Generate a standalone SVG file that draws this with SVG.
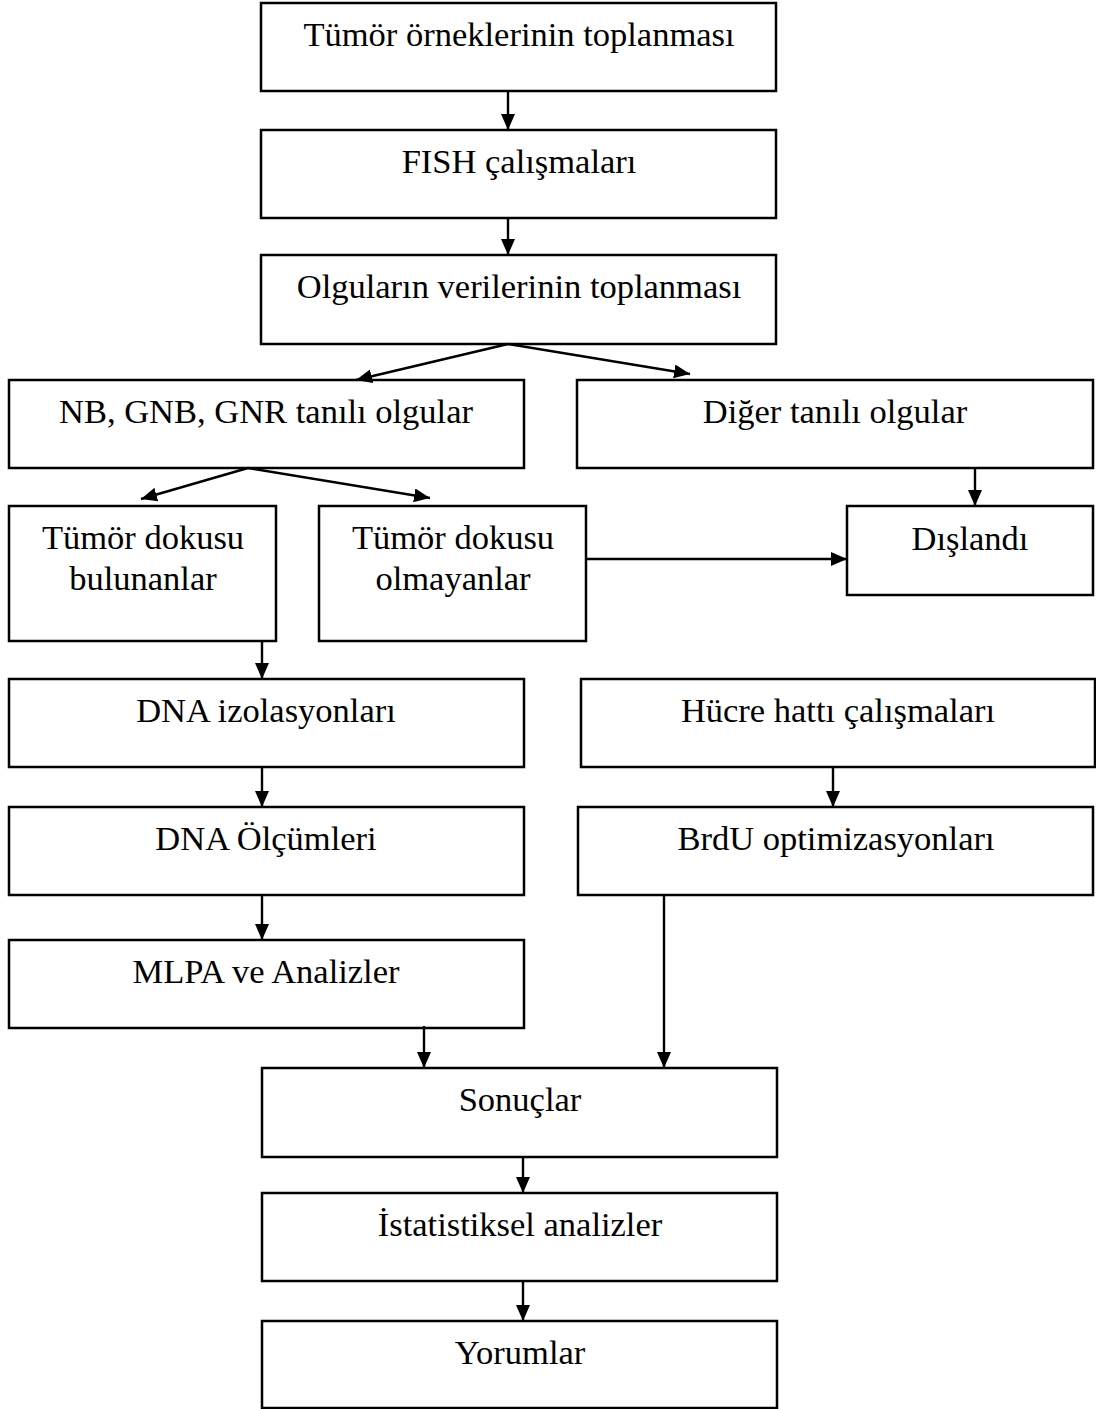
<svg xmlns="http://www.w3.org/2000/svg" width="1096" height="1409" viewBox="0 0 1096 1409">
<defs>
<marker id="ah" viewBox="0 0 16 14" refX="16" refY="7" markerWidth="16" markerHeight="14" markerUnits="userSpaceOnUse" orient="auto">
<path d="M0,0 L16,7 L0,14 Z" fill="#000"/>
</marker>
<style>
.box{fill:#fff;stroke:#000;stroke-width:2.5}
.t{font-family:"Liberation Serif","Times New Roman",serif;font-size:34.5px;fill:#000;text-anchor:middle}
.c{fill:none;stroke:#000;stroke-width:2.4;marker-end:url(#ah)}
</style>
</defs>
<rect width="1096" height="1409" fill="#fff"/>
<g id="n1"><rect class="box" x="261" y="3" width="515" height="88"/><text class="t" x="519" y="46">Tümör örneklerinin toplanması</text></g>
<g id="n2"><rect class="box" x="261" y="130" width="515" height="88"/><text class="t" x="519" y="173">FISH çalışmaları</text></g>
<g id="n3"><rect class="box" x="261" y="255" width="515" height="89"/><text class="t" x="519" y="298">Olguların verilerinin toplanması</text></g>
<g id="n4"><rect class="box" x="9" y="380" width="515" height="88"/><text class="t" x="266" y="423">NB, GNB, GNR tanılı olgular</text></g>
<g id="n5"><rect class="box" x="577" y="380" width="516" height="88"/><text class="t" x="835" y="423">Diğer tanılı olgular</text></g>
<g id="n6"><rect class="box" x="9" y="506" width="267" height="135"/><text class="t" x="143" y="549">Tümör dokusu</text><text class="t" x="143" y="590">bulunanlar</text></g>
<g id="n7"><rect class="box" x="319" y="506" width="267" height="135"/><text class="t" x="453" y="549">Tümör dokusu</text><text class="t" x="453" y="590">olmayanlar</text></g>
<g id="n8"><rect class="box" x="847" y="506" width="246" height="89"/><text class="t" x="970" y="550">Dışlandı</text></g>
<g id="n9"><rect class="box" x="9" y="679" width="515" height="88"/><text class="t" x="266" y="722">DNA izolasyonları</text></g>
<g id="n10"><rect class="box" x="581" y="679" width="514" height="88"/><text class="t" x="838" y="722">Hücre hattı çalışmaları</text></g>
<g id="n11"><rect class="box" x="9" y="807" width="515" height="88"/><text class="t" x="266" y="850">DNA Ölçümleri</text></g>
<g id="n12"><rect class="box" x="578" y="807" width="515" height="88"/><text class="t" x="836" y="850">BrdU optimizasyonları</text></g>
<g id="n13"><rect class="box" x="9" y="940" width="515" height="88"/><text class="t" x="266" y="983">MLPA ve Analizler</text></g>
<g id="n14"><rect class="box" x="262" y="1068" width="515" height="89"/><text class="t" x="520" y="1111">Sonuçlar</text></g>
<g id="n15"><rect class="box" x="262" y="1193" width="515" height="88"/><text class="t" x="520" y="1236">İstatistiksel analizler</text></g>
<g id="n16"><rect class="box" x="262" y="1321" width="515" height="87"/><text class="t" x="520" y="1364">Yorumlar</text></g>
<g id="connectors">
<line class="c" x1="508" y1="92" x2="508" y2="130"/>
<line class="c" x1="508" y1="219" x2="508" y2="255"/>
<line class="c" x1="508" y1="344" x2="356" y2="380"/>
<line class="c" x1="508" y1="344" x2="690" y2="374"/>
<line class="c" x1="248" y1="468" x2="141" y2="499"/>
<line class="c" x1="248" y1="468" x2="430" y2="498"/>
<line class="c" x1="975" y1="469" x2="975" y2="506"/>
<line class="c" x1="587" y1="559" x2="847" y2="559"/>
<line class="c" x1="262" y1="642" x2="262" y2="679"/>
<line class="c" x1="262" y1="768" x2="262" y2="807"/>
<line class="c" x1="262" y1="896" x2="262" y2="940"/>
<line class="c" x1="833" y1="768" x2="833" y2="807"/>
<line class="c" x1="424" y1="1026" x2="424" y2="1068"/>
<line class="c" x1="664" y1="896" x2="664" y2="1068"/>
<line class="c" x1="523" y1="1156" x2="523" y2="1193"/>
<line class="c" x1="523" y1="1281" x2="523" y2="1321"/>
</g>
</svg>
